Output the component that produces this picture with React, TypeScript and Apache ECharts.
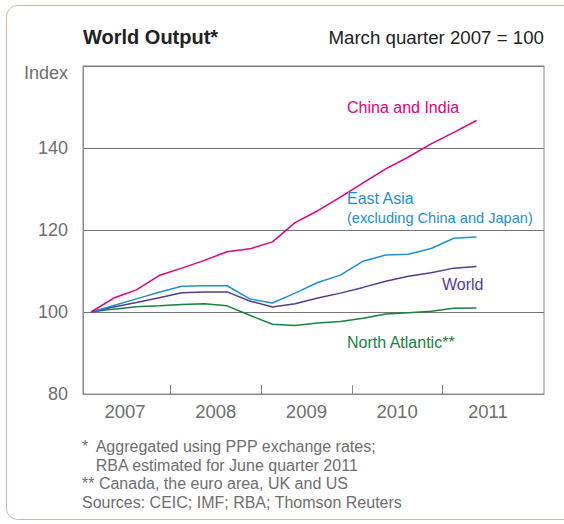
import React, { useEffect, useRef } from "react";
import * as echarts from "echarts";

const quarters = [
  "2007 Q1", "2007 Q2", "2007 Q3", "2007 Q4",
  "2008 Q1", "2008 Q2", "2008 Q3", "2008 Q4",
  "2009 Q1", "2009 Q2", "2009 Q3", "2009 Q4",
  "2010 Q1", "2010 Q2", "2010 Q3", "2010 Q4",
  "2011 Q1", "2011 Q2",
];
const chinaIndia = [100, 103.4, 105.4, 108.9, 110.7, 112.6, 114.7, 115.4, 117.1, 121.8, 124.7, 128.0, 131.5, 134.9, 137.8, 141.0, 143.8, 146.7];
const eastAsia = [100, 101.6, 103.2, 104.8, 106.3, 106.4, 106.4, 103.2, 102.2, 104.6, 107.2, 109.0, 112.4, 113.9, 114.1, 115.5, 118.0, 118.3];
const world = [100, 101.2, 102.3, 103.5, 104.7, 104.9, 104.9, 102.7, 101.2, 102.0, 103.4, 104.6, 106.0, 107.5, 108.7, 109.6, 110.7, 111.1];
const northAtlantic = [100, 100.7, 101.3, 101.5, 101.8, 102.0, 101.5, 99.2, 97.0, 96.7, 97.3, 97.7, 98.5, 99.5, 99.8, 100.2, 100.9, 101.0];

const yearTicks = [2008, 2009, 2010, 2011];
const yearLabels = [2007, 2008, 2009, 2010, 2011];
const yTicks = [80, 100, 120, 140, 160];

const FONT = "'Liberation Sans', Arial, Helvetica, sans-serif";
const GREY = "#6e6e6e";

function qx(q: string): number {
  const [y, qq] = q.split(" Q");
  return Number(y) + (Number(qq) - 0.5) / 4;
}

function toData(vals: number[]) {
  return vals.map((v, i) => [qx(quarters[i]), v]);
}

export default function App() {
  const ref = useRef<HTMLDivElement>(null);
  useEffect(() => {
    if (!ref.current) return;
    const chart = echarts.init(ref.current, undefined, { renderer: "svg" });
    const mkSeries = (name: string, vals: number[], color: string) => ({
      name,
      type: "line",
      data: toData(vals),
      showSymbol: false,
      symbol: "none",
      lineStyle: { color, width: 1.5 },
      itemStyle: { color },
      z: 3,
    });
    const txt = (
      text: string,
      x: number,
      y: number,
      size: number,
      color: string,
      align = "left",
      weight = "normal"
    ) => ({
      type: "text",
      x,
      y,
      style: {
        text,
        fill: color,
        font: `${weight} ${size}px ${FONT}`,
        textAlign: align,
        textVerticalAlign: "middle",
      },
      z: 10,
    });
    const fy = (i: number) => 446.5 + i * 18.5;
    chart.setOption({
      animation: false,
      grid: {
        left: 83,
        top: 66,
        width: 461,
        height: 328,
        show: true,
        borderColor: "#8a8a8a",
        borderWidth: 1,
      },
      xAxis: {
        type: "value",
        min: 2007.036,
        max: 2012.12,
        axisLine: { show: true, lineStyle: { color: "#8a8a8a", width: 1 } },
        axisTick: {
          show: true,
          inside: true,
          length: 9,
          customValues: yearTicks,
          lineStyle: { color: "#8a8a8a" },
        },
        axisLabel: {
          customValues: yearLabels.map((y) => y + 0.5),
          formatter: (v: number) => String(Math.floor(v)),
          fontSize: 18.5,
          color: GREY,
          fontFamily: FONT,
          margin: 8,
        },
        splitLine: { show: false },
      },
      yAxis: {
        type: "value",
        min: yTicks[0],
        max: yTicks[yTicks.length - 1],
        interval: 20,
        axisLine: { show: true, lineStyle: { color: "#8a8a8a" } },
        axisTick: { show: false },
        axisLabel: {
          fontSize: 18,
          color: GREY,
          fontFamily: FONT,
          margin: 15,
          showMaxLabel: false,
        },
        splitLine: { show: true, lineStyle: { color: "#737373", width: 1 } },
      },
      series: [
        mkSeries("North Atlantic", northAtlantic, "#17823e"),
        mkSeries("World", world, "#573a94"),
        mkSeries("East Asia", eastAsia, "#1e8fd2"),
        mkSeries("China and India", chinaIndia, "#e4007d"),
      ],
      graphic: [
        {
          type: "rect",
          shape: { x: 6.5, y: 5.5, width: 600, height: 514, r: 11 },
          style: { fill: "none", stroke: "#cbbcaa", lineWidth: 1 },
          z: 0,
        },
        txt("World Output*", 83, 37, 20, "#222222", "left", "bold"),
        txt("March quarter 2007 = 100", 544, 37, 18.7, "#222222", "right"),
        txt("Index", 68, 73, 18, GREY, "right"),
        txt("China and India", 347, 107, 16, "#e4007d"),
        txt("East Asia", 347, 198, 16, "#1e8fd2"),
        txt("(excluding China and Japan)", 347, 218, 14.6, "#1e8fd2"),
        txt("World", 442, 284, 16, "#573a94"),
        txt("North Atlantic**", 347, 342, 16, "#17823e"),
        txt("*", 82, fy(0), 16, GREY),
        txt("Aggregated using PPP exchange rates;", 95.7, fy(0), 16, GREY),
        txt("RBA estimated for June quarter 2011", 95.7, fy(1), 16, GREY),
        txt("** Canada, the euro area, UK and US", 82, fy(2), 16, GREY),
        txt("Sources: CEIC; IMF; RBA; Thomson Reuters", 82, fy(3), 16, GREY),
      ],
    });
    return () => chart.dispose();
  }, []);
  return (
    <div
      ref={ref}
      style={{ position: "fixed", left: 0, top: 0, width: 564, height: 524, background: "#fff" }}
    />
  );
}
